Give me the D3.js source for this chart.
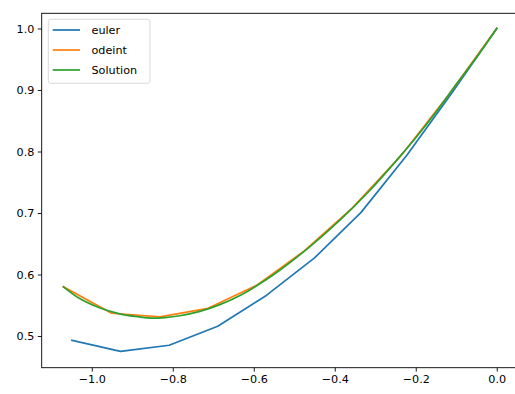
<!DOCTYPE html>
<html lang="en">
<head>
    <meta charset="UTF-8">
    <script src="https://d3js.org/d3.v7.min.js"></script>
    <title>euler / odeint / Solution</title>
    <style>
        body { margin: 0; background: #fff; }
        text { font-family: "DejaVu Sans", sans-serif; fill: #000; }
    </style>
</head>
<body>
    <svg id="grafico" width="515" height="394"></svg>
    <script>
        // Datos
        var eulerX = [-1.049, -0.929, -0.809, -0.689, -0.569, -0.450, -0.335, -0.222, -0.110, 0.0];
        var eulerY = [0.493, 0.475, 0.485, 0.516, 0.566, 0.627, 0.701, 0.794, 0.896, 1.0];

        var odeintX = [-1.070, -0.951, -0.832, -0.713, -0.594, -0.476, -0.357, -0.238, -0.119, 0.0];
        var odeintY = [0.580, 0.537, 0.531, 0.545, 0.582, 0.638, 0.708, 0.792, 0.892, 1.0];

        var solX = [-1.070, -1.030, -0.981, -0.931, -0.882, -0.850, -0.820, -0.783, -0.733,
                    -0.684, -0.634, -0.585, -0.536, -0.462, -0.388, -0.313, -0.239, -0.198,
                    -0.148, -0.099, -0.049, 0.0];
        var solY = [0.580, 0.561, 0.546, 0.536, 0.531, 0.529, 0.530, 0.533, 0.540,
                    0.551, 0.566, 0.585, 0.607, 0.645, 0.688, 0.737, 0.792, 0.824,
                    0.866, 0.910, 0.954, 1.0];

        var xTicks = [-1.0, -0.8, -0.6, -0.4, -0.2, 0.0];
        var yTicks = [0.5, 0.6, 0.7, 0.8, 0.9, 1.0];

        var series = [
            { name: "euler", xs: eulerX, ys: eulerY, color: "#1f77b4", curve: d3.curveLinear },
            { name: "odeint", xs: odeintX, ys: odeintY, color: "#ff7f0e", curve: d3.curveLinear },
            { name: "Solution", xs: solX, ys: solY, color: "#2ca02c", curve: d3.curveCatmullRom }
        ];

        // Area del grafico (en pixeles)
        var bordeIzq = 41.7, bordeDer = 518.4, bordeSup = 13.3, bordeInf = 367.7;

        // Escalas
        var escalaX = d3.scaleLinear()
            .domain([-1.1237, 0.0535])
            .range([bordeIzq, bordeDer]);

        var escalaY = d3.scaleLinear()
            .domain([0.4485, 1.0247])
            .range([bordeInf, bordeSup]);

        var svg = d3.select("#grafico");

        // Lineas
        series.forEach(function (s) {
            var pts = s.xs.map(function (x, i) { return [x, s.ys[i]]; });
            svg.append("path")
                .datum(pts)
                .attr("fill", "none")
                .attr("stroke", s.color)
                .attr("stroke-width", 1.7)
                .attr("stroke-linejoin", "round")
                .attr("stroke-linecap", "square")
                .attr("d", d3.line()
                    .curve(s.curve)
                    .x(function (d) { return escalaX(d[0]); })
                    .y(function (d) { return escalaY(d[1]); }));
        });

        // Marco
        svg.append("rect")
            .attr("x", bordeIzq)
            .attr("y", bordeSup)
            .attr("width", bordeDer - bordeIzq)
            .attr("height", bordeInf - bordeSup)
            .attr("fill", "none")
            .attr("stroke", "black")
            .attr("stroke-width", 0.9);

        // Eje X
        var ejeX = d3.axisBottom(escalaX)
            .tickValues(xTicks)
            .tickFormat(d3.format(".1f"))
            .tickSize(3.9)
            .tickPadding(3.5);

        svg.append("g")
            .attr("class", "eje")
            .attr("transform", "translate(0," + bordeInf + ")")
            .call(ejeX);

        // Eje Y
        var ejeY = d3.axisLeft(escalaY)
            .tickValues(yTicks)
            .tickFormat(d3.format(".1f"))
            .tickSize(3.9)
            .tickPadding(3.5);

        svg.append("g")
            .attr("class", "eje")
            .attr("transform", "translate(" + bordeIzq + ",0)")
            .call(ejeY);

        svg.selectAll(".eje .domain").remove();
        svg.selectAll(".eje line").attr("stroke-width", 0.9);
        svg.selectAll(".eje text")
            .attr("font-size", 11.2)
            .attr("font-family", "DejaVu Sans, sans-serif")
            .attr("fill", "#000");

        // Leyenda
        var leyenda = svg.append("g");
        leyenda.append("rect")
            .attr("x", 48.3)
            .attr("y", 19.3)
            .attr("width", 101.7)
            .attr("height", 64)
            .attr("rx", 2.5)
            .attr("fill", "white")
            .attr("fill-opacity", 0.8)
            .attr("stroke", "#d5d5d5")
            .attr("stroke-width", 0.9);

        leyenda.selectAll("g.item")
            .data(series)
            .enter().append("g")
            .attr("class", "item")
            .attr("transform", function (d, i) { return "translate(0," + (30 + i * 20) + ")"; })
            .each(function (d) {
                var g = d3.select(this);
                g.append("line")
                    .attr("x1", 52.7).attr("x2", 80)
                    .attr("y1", 0).attr("y2", 0)
                    .attr("stroke", d.color)
                    .attr("stroke-width", 1.7);
                g.append("text")
                    .attr("x", 91.5)
                    .attr("y", 4)
                    .attr("font-size", 11.2)
                    .text(d.name);
            });
    </script>
</body>
</html>
